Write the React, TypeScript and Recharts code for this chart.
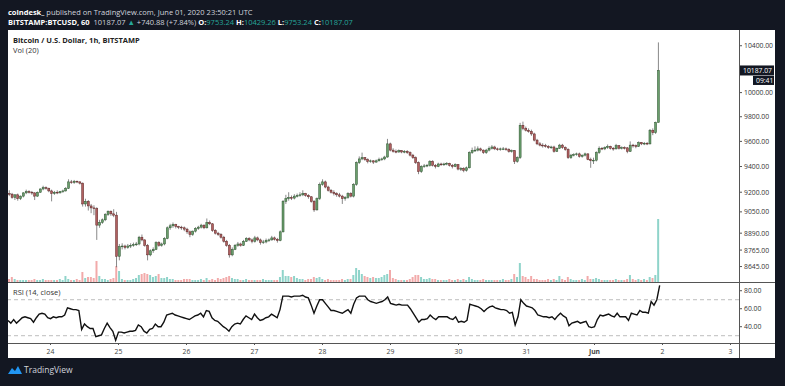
import React from 'react';
import { ComposedChart, Bar, Line, XAxis, YAxis, ReferenceLine, Cell } from 'recharts';

// hourly candles, BITSTAMP BTCUSD, from May 23 09:00 to Jun 1 23:00 (UTC)
// t = hours since May 24 00:00
const firstHour = -15;
const firstOpen = 9190;

const close = [
  9185, 9160, 9180, 9150, 9170, 9195, 9205, 9200, 9195, 9170, 9200, 9225, 9235, 9230, 9210,
  9190, 9200, 9195, 9205, 9210, 9230, 9280, 9275, 9285, 9280, 9270, 9110, 9130, 9095, 9080, 9075, 8950, 8970, 8990, 9030, 9055, 9035, 9025, 8720,
  8790, 8795, 8785, 8795, 8800, 8805, 8810, 8860, 8840, 8800, 8730, 8760, 8770, 8820, 8800, 8810, 8850, 8930, 8945, 8955, 8940, 8935, 8930, 8920,
  8900, 8880, 8905, 8925, 8935, 8950, 8930, 8970, 8960, 8910, 8890, 8880, 8860, 8830, 8800, 8730, 8770, 8800, 8810, 8800, 8830, 8850, 8840, 8830,
  8855, 8840, 8820, 8825, 8835, 8840, 8855, 8845, 8835, 8900, 9130, 9150, 9160, 9155, 9170, 9175, 9180, 9190, 9175, 9165, 9130, 9065, 9150, 9260,
  9280, 9240, 9215, 9200, 9190, 9180, 9170, 9150, 9160, 9190, 9170, 9260, 9430, 9460, 9470, 9455, 9440, 9445, 9435, 9445, 9455, 9460, 9475, 9580,
  9530, 9520, 9515, 9525, 9515, 9520, 9510, 9490, 9470, 9430, 9360, 9400, 9405, 9410, 9440, 9410, 9400, 9420, 9415, 9420, 9425, 9410, 9400, 9415,
  9380, 9385, 9370, 9390, 9510, 9525, 9530, 9540, 9530, 9510, 9530, 9545, 9555, 9540, 9535, 9540, 9540, 9535, 9520, 9525, 9440, 9470, 9730, 9705,
  9690, 9680, 9660, 9610, 9580, 9570, 9565, 9560, 9550, 9555, 9520, 9545, 9570, 9550, 9535, 9470, 9490, 9495, 9500, 9480, 9490, 9500, 9455, 9446.19,
  9450, 9510, 9545, 9540, 9550, 9560, 9545, 9540, 9565, 9545, 9550, 9548, 9520, 9570, 9565, 9560, 9590, 9580, 9585, 9580, 9690, 9670, 9753.24, 10187.07,
];

const high = [
  9215, 9195, 9185, 9190, 9175, 9200, 9220, 9215, 9210, 9200, 9205, 9230, 9250, 9245, 9235,
  9220, 9210, 9215, 9210, 9220, 9240, 9300, 9295, 9295, 9290, 9285, 9275, 9150, 9140, 9110, 9100, 9085, 8990, 9000, 9040, 9060, 9060, 9070, 9050,
  8810, 8815, 8805, 8810, 8815, 8820, 8825, 8870, 8880, 8845, 8810, 8770, 8785, 8830, 8830, 8820, 8860, 8940, 8960, 8970, 8960, 8945, 8945, 8940,
  8930, 8910, 8910, 8935, 8945, 8960, 8955, 9000, 8985, 8965, 8920, 8900, 8890, 8870, 8840, 8810, 8785, 8810, 8825, 8820, 8840, 8860, 8860, 8850,
  8870, 8865, 8850, 8840, 8850, 8850, 8870, 8865, 8855, 8910, 9140, 9180, 9200, 9175, 9185, 9190, 9200, 9215, 9195, 9185, 9170, 9140, 9160, 9275,
  9300, 9290, 9250, 9225, 9215, 9200, 9195, 9180, 9170, 9200, 9200, 9270, 9440, 9480, 9510, 9475, 9465, 9455, 9450, 9455, 9470, 9470, 9485, 9620,
  9590, 9545, 9535, 9535, 9530, 9530, 9530, 9520, 9500, 9480, 9440, 9410, 9420, 9420, 9450, 9450, 9420, 9430, 9430, 9430, 9435, 9430, 9420, 9425,
  9420, 9395, 9395, 9400, 9520, 9550, 9560, 9560, 9550, 9535, 9540, 9560, 9570, 9565, 9550, 9550, 9555, 9550, 9545, 9535, 9530, 9480, 9750, 9760,
  9720, 9705, 9695, 9670, 9620, 9595, 9585, 9580, 9570, 9565, 9565, 9550, 9580, 9580, 9560, 9545, 9500, 9505, 9510, 9510, 9495, 9510, 9505, 9470,
  9470, 9520, 9560, 9555, 9560, 9575, 9565, 9555, 9580, 9570, 9560, 9560, 9555, 9600, 9580, 9575, 9600, 9595, 9595, 9595, 9700, 9705, 9760, 10429.26,
];

const low = [
  9170, 9150, 9140, 9135, 9140, 9160, 9185, 9190, 9180, 9140, 9165, 9195, 9215, 9220, 9200,
  9130, 9180, 9185, 9190, 9195, 9205, 9225, 9265, 9265, 9270, 9260, 9090, 9090, 9060, 9040, 9025, 8840, 8930, 8960, 8980, 9020, 9020, 9010, 8640,
  8690, 8770, 8770, 8775, 8780, 8790, 8795, 8800, 8830, 8790, 8690, 8720, 8745, 8765, 8790, 8790, 8800, 8845, 8915, 8930, 8925, 8920, 8915, 8905,
  8885, 8860, 8870, 8895, 8915, 8925, 8920, 8925, 8950, 8900, 8880, 8870, 8850, 8820, 8790, 8710, 8720, 8765, 8790, 8790, 8795, 8825, 8830, 8815,
  8820, 8830, 8805, 8810, 8815, 8825, 8835, 8835, 8820, 8830, 8895, 9110, 9135, 9140, 9145, 9160, 9165, 9170, 9165, 9150, 9120, 9050, 9060, 9140,
  9250, 9230, 9205, 9190, 9175, 9165, 9160, 9110, 9135, 9150, 9160, 9160, 9250, 9420, 9450, 9445, 9425, 9430, 9420, 9430, 9440, 9445, 9450, 9470,
  9520, 9510, 9505, 9510, 9505, 9505, 9500, 9480, 9460, 9420, 9340, 9350, 9390, 9395, 9400, 9400, 9385, 9395, 9405, 9405, 9410, 9400, 9385, 9395,
  9370, 9365, 9355, 9360, 9385, 9500, 9515, 9520, 9520, 9500, 9500, 9520, 9535, 9530, 9525, 9525, 9530, 9525, 9510, 9510, 9420, 9430, 9460, 9690,
  9680, 9670, 9645, 9600, 9570, 9560, 9550, 9550, 9540, 9540, 9510, 9515, 9540, 9540, 9525, 9460, 9460, 9480, 9485, 9470, 9470, 9480, 9450, 9390,
  9420, 9440, 9500, 9530, 9530, 9540, 9535, 9525, 9535, 9535, 9535, 9535, 9505, 9515, 9550, 9545, 9555, 9570, 9570, 9570, 9575, 9650, 9660, 9753.24,
];

const volume = [
  150, 250, 150, 100, 100, 100, 100, 100, 100, 150, 100, 100, 150, 100, 100,
  100, 100, 100, 150, 100, 300, 150, 100, 100, 150, 100, 500, 200, 250, 250, 200, 1050, 300, 150, 150, 100, 150, 200, 800,
  550, 150, 100, 100, 100, 150, 200, 350, 400, 450, 400, 350, 250, 300, 400, 200, 200, 250, 150, 150, 100, 100, 100, 150,
  150, 150, 100, 100, 100, 150, 100, 200, 100, 150, 100, 200, 150, 200, 250, 300, 200, 150, 150, 100, 100, 150, 100, 100,
  100, 100, 100, 150, 100, 100, 100, 100, 100, 250, 600, 300, 300, 250, 300, 200, 150, 150, 100, 150, 150, 250, 200, 250,
  150, 100, 150, 100, 100, 100, 100, 150, 100, 150, 150, 350, 700, 600, 400, 300, 250, 200, 250, 200, 200, 250, 350, 400,
  600, 200, 150, 100, 100, 100, 100, 150, 250, 350, 350, 250, 150, 150, 200, 150, 150, 100, 100, 100, 100, 150, 100, 100,
  150, 100, 150, 100, 250, 150, 100, 100, 100, 150, 100, 100, 100, 100, 100, 100, 150, 100, 100, 150, 400, 250, 950, 300,
  250, 150, 300, 150, 150, 100, 100, 100, 150, 100, 150, 100, 300, 150, 100, 250, 150, 100, 100, 100, 150, 100, 300, 150,
  150, 200, 150, 100, 100, 100, 100, 100, 150, 100, 100, 100, 150, 350, 150, 100, 150, 100, 150, 100, 250, 200, 350, 3150,
];

const rsi = [
  47, 44, 48, 44, 47, 50, 51, 50, 49, 45, 50, 54, 55, 54, 50,
  49, 51, 50, 51, 51, 53, 61, 60, 59, 59, 58, 37, 43, 40, 38, 38, 29, 30, 31, 38, 44, 39, 35, 25,
  34, 34, 33, 34, 35, 35, 36, 42, 40, 35, 33, 37, 38, 43, 40, 40, 45, 53, 54, 55, 53, 52, 51, 50,
  49, 48, 50, 52, 53, 55, 51, 58, 57, 50, 47, 46, 43, 40, 38, 35, 40, 43, 44, 43, 48, 52, 50, 48,
  54, 50, 47, 48, 50, 51, 54, 52, 50, 59, 74, 74, 74, 73, 74, 74, 74, 75, 73, 72, 64, 55, 63, 70,
  70, 66, 62, 58, 58, 57, 56, 55, 57, 59, 55, 65, 72, 74, 74, 74, 70, 68, 67, 66, 67, 68, 70, 73,
  66, 65, 64, 65, 64, 64, 64, 60, 55, 50, 45, 48, 48, 49, 53, 50, 48, 51, 51, 51, 51, 49, 48, 51,
  45, 46, 45, 47, 65, 64, 63, 62, 60, 57, 60, 62, 63, 61, 60, 59, 59, 58, 55, 56, 42, 51, 70, 66,
  63, 62, 61, 58, 53, 52, 51, 51, 50, 51, 48, 52, 55, 52, 50, 41, 44, 45, 46, 44, 45, 46, 40, 39,
  40, 48, 53, 52, 53, 54, 52, 51, 55, 51, 51, 51, 47, 55, 54, 53, 58, 56, 56, 55, 68, 64, 70, 86,
];

const totalSlots = 259; // visible range runs on to Jun 3
const dayTicks = [0, 24, 48, 72, 96, 120, 144, 168, 192, 216, 240];
const dayLabels = ['24', '25', '26', '27', '28', '29', '30', '31', 'Jun', '2', '3'];
const priceTicks = [8645, 8765, 8890, 9050, 9200, 9400, 9600, 9800, 10000, 10400];
const rsiTicks = [40, 60, 80];

const data = Array.from({ length: totalSlots }, (_, i) => {
  const t = firstHour + i;
  if (i >= close.length) return { t, range: null, volume: null, rsi: null };
  const o = i === 0 ? firstOpen : close[i - 1];
  const c = close[i];
  const h = Math.max(high[i], o, c);
  const l = Math.min(low[i], o, c);
  return { t, open: o, close: c, high: h, low: l, range: [l, h], volume: volume[i], rsi: rsi[i] };
});

const UP = '#6a9e6c';
const DOWN = '#b06060';
const font = 'Open Sans, sans-serif';
const axisFont = 6.8;
const W = 767;

const Candle = (props: any) => {
  const { x, y, width, height, payload } = props;
  if (!payload || payload.open == null) return null;
  const top = Math.min(y, y + height);
  const bottom = Math.max(y, y + height);
  const lh = Math.log(payload.high);
  const ll = Math.log(payload.low);
  const toY = (v: number) => (lh === ll ? top : top + ((bottom - top) * (lh - Math.log(v))) / (lh - ll));
  const up = payload.close >= payload.open;
  const cx = x + width / 2;
  const bTop = toY(Math.max(payload.open, payload.close));
  const bBot = toY(Math.min(payload.open, payload.close));
  return (
    <g>
      <line x1={cx} x2={cx} y1={top} y2={bottom} stroke="#6b6b6b" strokeWidth={0.8} />
      <rect
        x={cx - 1}
        y={bTop}
        width={2}
        height={Math.max(bBot - bTop, 0.8)}
        fill={up ? UP : DOWN}
        stroke={up ? '#2e5530' : '#5e2626'}
        strokeWidth={0.5}
      />
    </g>
  );
};

const PriceTag = (props: any) => {
  const vb = props.viewBox || {};
  const left = vb.x + vb.width;
  const y = vb.y;
  return (
    <g>
      <rect x={left} y={y - 5} width={35} height={10} fill="#131722" />
      <text x={left + 4} y={y} dy="0.35em" fontSize={axisFont} fill="#fff" fontFamily={font}>10187.07</text>
      <rect x={left + 14} y={y + 5.5} width={21} height={9} fill="#131722" />
      <text x={left + 17} y={y + 10} dy="0.35em" fontSize={axisFont} fill="#fff" fontFamily={font}>09:41</text>
    </g>
  );
};

const TimeTick = (props: any) => {
  const { x, y, payload } = props;
  const label = dayLabels[dayTicks.indexOf(payload.value)];
  return (
    <text x={x} y={y} dy="0.71em" textAnchor="middle" fontSize={axisFont} fill="#444"
      fontFamily={font} fontWeight={label === 'Jun' ? 700 : 400}>
      {label}
    </text>
  );
};

export default function App() {
  return (
    <div style={{ position: 'absolute', left: 0, top: 0, width: 785, height: 386, background: '#131722', fontFamily: font, overflow: 'hidden' }}>
      <div style={{ position: 'absolute', left: 8, top: 7, fontSize: 7.5, color: '#d1d4dc', whiteSpace: 'nowrap' }}>
        <b style={{ color: '#fff' }}>coindesk_</b> published on TradingView.com, June 01, 2020 23:50:21 UTC
      </div>
      <div style={{ position: 'absolute', left: 8, top: 17, fontSize: 7.5, color: '#d1d4dc', whiteSpace: 'nowrap' }}>
        <b style={{ color: '#fff' }}>BITSTAMP:BTCUSD, 60</b>&nbsp; 10187.07 <span style={{ color: '#26a69a' }}>▲</span> +740.88 (+7.84%){' '}
        <b style={{ color: '#fff' }}>O:</b><span style={{ color: '#26a69a' }}>9753.24</span>{' '}
        <b style={{ color: '#fff' }}>H:</b><span style={{ color: '#26a69a' }}>10429.26</span>{' '}
        <b style={{ color: '#fff' }}>L:</b><span style={{ color: '#26a69a' }}>9753.24</span>{' '}
        <b style={{ color: '#fff' }}>C:</b><span style={{ color: '#26a69a' }}>10187.07</span>
      </div>

      <div style={{ position: 'absolute', left: 8, top: 30, width: W, height: 328, background: '#fff' }}>
        <div style={{ position: 'absolute', left: 0, top: 0 }}>
          <ComposedChart width={W} height={252} data={data} margin={{ top: 0, right: 36, left: 0, bottom: 0 }}>
            <XAxis dataKey="t" hide />
            <YAxis hide domain={[0, 12600]} />
            <Bar dataKey="volume" barSize={2} isAnimationActive={false}>
              {data.map((d: any, i) => (
                <Cell key={i} fill={d.close >= d.open ? '#8fd4ca' : '#f2aaaa'} />
              ))}
            </Bar>
          </ComposedChart>
        </div>
        <div style={{ position: 'absolute', left: 0, top: 0 }}>
          <ComposedChart width={W} height={252} data={data} margin={{ top: 0, right: 0, left: 0, bottom: 0 }}>
            <XAxis dataKey="t" hide />
            <YAxis
              orientation="right"
              width={36}
              scale="log"
              domain={[8534, 10538]}
              allowDataOverflow
              ticks={priceTicks}
              tickFormatter={(v: number) => v.toFixed(2)}
              tick={{ fontSize: axisFont, fill: '#333', fontFamily: font }}
              tickSize={3}
              tickMargin={2}
              axisLine={false}
              tickLine={{ stroke: '#555' }}
            />
            <Bar dataKey="range" barSize={3} shape={<Candle />} isAnimationActive={false} />
            <ReferenceLine y={10187.07} stroke="none" label={<PriceTag />} />
          </ComposedChart>
        </div>
        <div style={{ position: 'absolute', left: 0, top: 252 }}>
          <ComposedChart width={W} height={76} data={data} margin={{ top: 0, right: 0, left: 0, bottom: 0 }}>
            <XAxis
              dataKey="t"
              height={15}
              ticks={dayTicks}
              interval={0}
              tick={<TimeTick />}
              tickSize={2}
              tickMargin={4}
              axisLine={false}
              tickLine={{ stroke: '#555' }}
            />
            <YAxis
              orientation="right"
              width={36}
              domain={[21.9, 89.7]}
              allowDataOverflow
              ticks={rsiTicks}
              tickFormatter={(v: number) => v.toFixed(2)}
              tick={{ fontSize: axisFont, fill: '#333', fontFamily: font }}
              tickSize={3}
              tickMargin={2}
              axisLine={false}
              tickLine={{ stroke: '#555' }}
            />
            <ReferenceLine y={70} stroke="#bdbdbd" strokeDasharray="4 3" />
            <ReferenceLine y={30} stroke="#bdbdbd" strokeDasharray="4 3" />
            <Line dataKey="rsi" stroke="#111" strokeWidth={1.4} dot={false} isAnimationActive={false} type="linear" />
          </ComposedChart>
        </div>

        <div style={{ position: 'absolute', left: 731, top: 0, width: 1, height: 328, background: '#555' }} />
        <div style={{ position: 'absolute', left: 0, top: 252, width: W, height: 1, background: '#555' }} />
        <div style={{ position: 'absolute', left: 0, top: 313, width: W, height: 1, background: '#555' }} />

        <div style={{ position: 'absolute', left: 5, top: 5, fontSize: 7.5, fontWeight: 700, color: '#222', whiteSpace: 'nowrap' }}>
          Bitcoin / U.S. Dollar, 1h, BITSTAMP
        </div>
        <div style={{ position: 'absolute', left: 5, top: 15, fontSize: 7.5, color: '#333' }}>Vol (20)</div>
        <div style={{ position: 'absolute', left: 5, top: 257, fontSize: 7.5, color: '#333', whiteSpace: 'nowrap' }}>RSI (14, close)</div>
      </div>

      <div style={{ position: 'absolute', left: 7, top: 364, display: 'flex', alignItems: 'center' }}>
        <svg width={16} height={10} viewBox="0 0 16 10">
          <path d="M1 9 L5 3 L8 6 L11 1 L15 9 Z" fill="#2196f3" />
        </svg>
        <span style={{ fontSize: 8.5, color: '#d1d4dc', marginLeft: 1 }}>TradingView</span>
      </div>
    </div>
  );
}
